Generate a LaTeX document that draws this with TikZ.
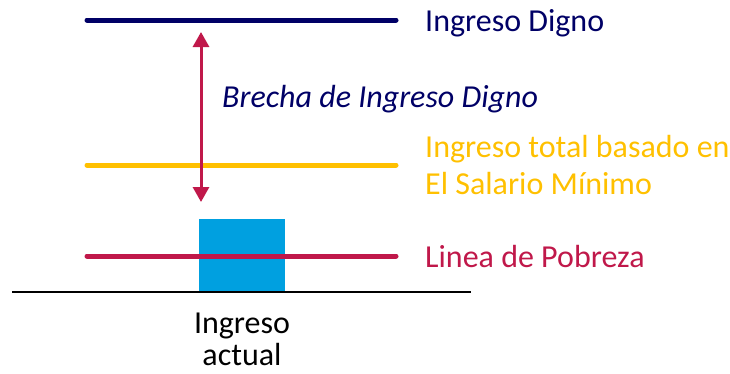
\documentclass[tikz,border=0pt]{standalone}
\usepackage{fontspec}
\setmainfont{Carlito}
\usetikzlibrary{arrows.meta}
\definecolor{navy}{RGB}{0,0,102}
\definecolor{gold}{RGB}{255,192,0}
\definecolor{crimson}{RGB}{192,24,74}
\definecolor{sky}{RGB}{0,160,224}
\tikzset{
  level/.style={line width=5pt, line cap=round},
  lbl/.style={anchor=base west, inner sep=0pt, font=\fontsize{32}{37}\selectfont},
}
\begin{document}
\begin{tikzpicture}[x=1pt,y=-1pt]
\useasboundingbox (0,0) rectangle (730,373);
% box
\node[fill=sky, minimum width=86pt, minimum height=73pt, inner sep=0pt, anchor=north west] (box) at (199,219) {};
% levels
\coordinate (d1) at (87,20); \coordinate (d2) at (396,20);
\coordinate (s1) at (87,165); \coordinate (s2) at (396,165);
\coordinate (p1) at (87,256); \coordinate (p2) at (396,256);
\draw[level, navy] (d1) -- (d2);
\draw[level, gold] (s1) -- (s2);
\draw[level, crimson] (p1) -- (p2);
% baseline
\coordinate (b1) at (12,292); \coordinate (b2) at (471,292);
\draw[line width=2pt] (b1) -- (b2);
% arrow
\coordinate (at) at (201,32); \coordinate (ab) at (201,202);
\draw[crimson, line width=3pt, {Triangle[length=15pt,width=16pt]}-{Triangle[length=15pt,width=16pt]}] (at) -- (ab);
% labels
\node[lbl, text=navy] (ld) at (425,31) {Ingreso Digno};
\node[lbl, text=navy, font=\fontsize{32}{37}\selectfont\itshape] (lb) at (222,107) {Brecha de Ingreso Digno};
\node[lbl, text=gold] (ls) at (425,157) {Ingreso total basado en};
\node[lbl, text=gold] (ls2) at (425,194) {El Salario Mínimo};
\node[lbl, text=crimson] (lp) at (425,267) {Linea de Pobreza};
\node[lbl, anchor=base] (la) at (242,333) {Ingreso};
\node[lbl, anchor=base] (la2) at (242,365) {actual};
\end{tikzpicture}
\end{document}
